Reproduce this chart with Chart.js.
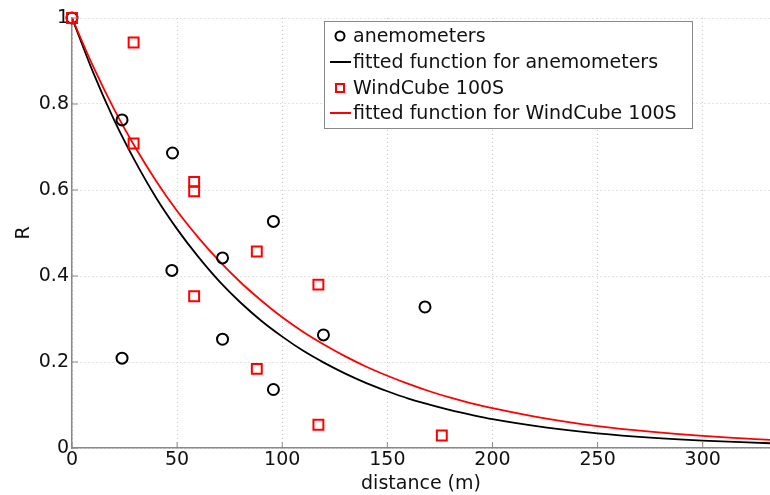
<!DOCTYPE html>
<html>
<head>
<meta charset="utf-8">
<script src="https://cdn.jsdelivr.net/npm/chart.js@4.4.0/dist/chart.umd.min.js"></script>
<style>
  html, body { margin: 0; padding: 0; background: #fff; }
  #wrap { width: 770px; height: 495px; }
</style>
</head>
<body>
<div id="wrap"><canvas id="myChart" width="770" height="495"></canvas></div>
<script>
// measured points
const anemX = [0, 23.8, 23.8, 47.8, 47.5, 71.6, 71.6, 95.8, 95.8, 119.6, 167.9];
const anemY = [1, 0.763, 0.209, 0.686, 0.413, 0.442, 0.253, 0.527, 0.136, 0.263, 0.328];
const cubeX = [0, 29.3, 29.3, 58.1, 58.1, 58.1, 87.9, 87.9, 117.2, 117.2, 175.9];
const cubeY = [1, 0.943, 0.708, 0.619, 0.597, 0.353, 0.457, 0.184, 0.380, 0.054, 0.029];

// fitted curves
const fitX    = [0, 10, 20, 30, 40, 50, 60, 70, 80, 90, 100, 110, 120, 130, 140, 150, 160, 170, 180, 190, 200, 225, 250, 275, 300, 332];
const fitAnem = [1, 0.874, 0.763, 0.667, 0.582, 0.509, 0.445, 0.388, 0.339, 0.296, 0.259, 0.226, 0.198, 0.173, 0.151, 0.132, 0.115, 0.101, 0.088, 0.077, 0.067, 0.048, 0.034, 0.024, 0.017, 0.011];
const fitCube = [1, 0.888, 0.788, 0.700, 0.621, 0.551, 0.490, 0.435, 0.386, 0.343, 0.304, 0.270, 0.240, 0.213, 0.189, 0.168, 0.149, 0.132, 0.117, 0.104, 0.093, 0.069, 0.051, 0.038, 0.028, 0.019];

const xTicks = [0, 50, 100, 150, 200, 250, 300];
const yTicks = [0, 0.2, 0.4, 0.6, 0.8, 1];

const FONT = 'DejaVu Sans, Verdana, sans-serif';
const pts = (xs, ys) => xs.map((x, i) => ({ x: x, y: ys[i] }));

// small inward ticks like matlab
const innerTicks = {
    id: 'innerTicks',
    afterDatasetsDraw(chart) {
        const c = chart.ctx, a = chart.chartArea;
        const sx = chart.scales.x, sy = chart.scales.y;
        c.save();
        c.strokeStyle = '#888';
        c.lineWidth = 1;
        xTicks.forEach(v => {
            const p = sx.getPixelForValue(v);
            c.beginPath(); c.moveTo(p, a.bottom); c.lineTo(p, a.bottom - 6); c.stroke();
        });
        yTicks.forEach(v => {
            const p = sy.getPixelForValue(v);
            c.beginPath(); c.moveTo(a.left, p); c.lineTo(a.left + 6, p); c.stroke();
        });
        c.restore();
    }
};

const boxLegend = {
    id: 'boxLegend',
    afterDraw(chart) {
        const c = chart.ctx;
        const x0 = 324, y0 = 21, w = 368, h = 107;
        c.save();
        c.fillStyle = '#fff';
        c.fillRect(x0, y0, w, h);
        c.strokeStyle = '#888';
        c.lineWidth = 1;
        c.strokeRect(x0 + 0.5, y0 + 0.5, w, h);
        c.font = '19px ' + FONT;
        c.textBaseline = 'middle';
        const rows = [
            { y: 36, t: 'anemometers', kind: 'circle', col: '#000' },
            { y: 62, t: 'fitted function for anemometers', kind: 'line', col: '#000' },
            { y: 88, t: 'WindCube 100S', kind: 'square', col: '#f00' },
            { y: 113, t: 'fitted function for WindCube 100S', kind: 'line', col: '#f00' }
        ];
        rows.forEach(r => {
            c.strokeStyle = r.col;
            c.lineWidth = 2;
            if (r.kind === 'circle') {
                c.beginPath(); c.arc(340, r.y, 4.5, 0, Math.PI * 2); c.stroke();
            } else if (r.kind === 'square') {
                c.strokeRect(336, r.y - 4, 8, 8);
            } else {
                c.beginPath(); c.moveTo(330, r.y); c.lineTo(351, r.y); c.stroke();
            }
            c.fillStyle = '#111';
            c.fillText(r.t, 353, r.y + 1);
        });
        c.restore();
    }
};

const ctx = document.getElementById('myChart');
new Chart(ctx, {
    type: 'scatter',
    data: {
        datasets: [
            {
                label: 'fitted function for anemometers',
                data: pts(fitX, fitAnem),
                showLine: true,
                borderColor: '#000',
                borderWidth: 1.8,
                pointRadius: 0,
                cubicInterpolationMode: 'monotone',
                order: 3
            },
            {
                label: 'fitted function for WindCube 100S',
                data: pts(fitX, fitCube),
                showLine: true,
                borderColor: '#f00',
                borderWidth: 1.8,
                pointRadius: 0,
                cubicInterpolationMode: 'monotone',
                order: 2
            },
            {
                label: 'anemometers',
                data: pts(anemX, anemY),
                pointStyle: 'circle',
                pointRadius: 5.5,
                borderColor: '#000',
                backgroundColor: 'rgba(0,0,0,0)',
                borderWidth: 2,
                clip: false,
                order: 1
            },
            {
                label: 'WindCube 100S',
                data: pts(cubeX, cubeY),
                pointStyle: 'rect',
                pointRadius: 7,
                borderColor: '#f00',
                backgroundColor: 'rgba(0,0,0,0)',
                borderWidth: 2,
                clip: false,
                order: 0
            }
        ]
    },
    options: {
        responsive: false,
        animation: false,
        layout: { autoPadding: false, padding: { left: 13, right: 0, top: 18, bottom: 0 } },
        plugins: {
            legend: { display: false },
            tooltip: { enabled: false }
        },
        scales: {
            x: {
                type: 'linear',
                min: 0,
                max: 332,
                afterFit: s => { s.height = 47; s.paddingRight = 0; s.paddingLeft = 0; },
                border: { color: '#888', width: 1.5, dash: [1, 3] },
                grid: { color: '#c8c8c8', tickLength: 0, lineWidth: 1 },
                ticks: {
                    stepSize: 50,
                    includeBounds: false,
                    color: '#111',
                    padding: 1,
                    font: { family: FONT, size: 19 }
                },
                title: {
                    display: true,
                    text: 'distance (m)',
                    color: '#111',
                    padding: { top: 0, bottom: 0 },
                    font: { family: FONT, size: 19 }
                }
            },
            y: {
                min: 0,
                max: 1,
                afterFit: s => { s.width = 59; },
                border: { color: '#888', width: 1.5, dash: [1, 3] },
                grid: { color: '#c8c8c8', tickLength: 0, lineWidth: 1 },
                ticks: {
                    stepSize: 0.2,
                    color: '#111',
                    padding: 3,
                    font: { family: FONT, size: 19 },
                    callback: v => String(Math.round(v * 10) / 10)
                },
                title: {
                    display: true,
                    text: 'R',
                    color: '#111',
                    padding: { top: 0, bottom: 0 },
                    font: { family: FONT, size: 19 }
                }
            }
        }
    },
    plugins: [innerTicks, boxLegend]
});
</script>
</body>
</html>
